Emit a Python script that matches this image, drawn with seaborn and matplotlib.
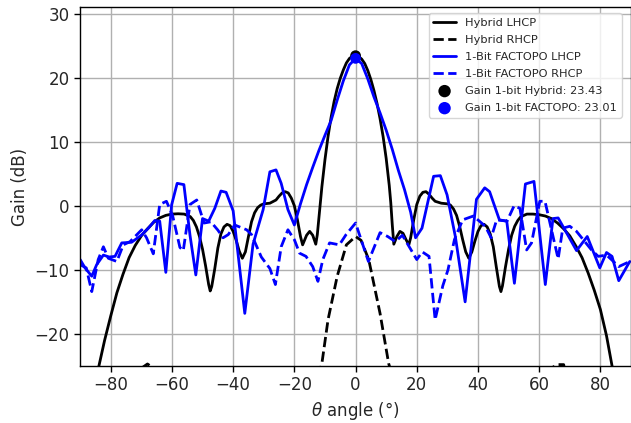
import numpy as np
import pandas as pd
import matplotlib
matplotlib.use("Agg")
import matplotlib.pyplot as plt
import seaborn as sns

# ---------------- data ----------------
hyb_lhcp_theta = [-86, -84, -82, -80, -78, -76, -74, -72, -70, -68, -66, -64, -62, -60, -58, -56, -54,
                  -53, -52, -51, -50, -49, -48, -47.5, -47, -46, -45, -44, -43, -42, -41, -40, -39,
                  -38, -37, -36, -35, -34, -33, -32, -31, -30, -28, -26, -25, -24, -23, -22, -21, -20,
                  -19, -18, -17.3, -16, -15, -14, -13, -12.5, -12, -11, -10, -9, -8, -7, -6, -5, -4,
                  -3, -2, -1, 0,
                  1, 2, 3, 4, 5, 6, 7, 8, 9, 10, 11, 11.5, 12, 12.5, 13.5, 14.5, 15.5, 16.5, 17.4,
                  18, 19, 20, 21, 22, 23, 24, 25, 26, 28, 30, 31, 32, 33, 34, 35, 36, 37, 38, 39,
                  40, 41, 42, 43, 44, 45, 46, 47, 47.5, 48, 49, 50, 51, 52, 53, 54, 56, 58, 60, 62,
                  64, 66, 68, 70, 72, 74, 76, 78, 80, 82, 84, 86]
hyb_lhcp_gain = [-30, -25.3, -21, -17.2, -13.6, -10.7, -8.1, -6.2, -4.7, -3.6, -2.6, -1.9, -1.5, -1.3,
                 -1.25, -1.3, -1.7, -2.3, -3.3, -4.8, -6.8, -9.4, -12.3, -13.3, -12.6, -9.8, -6.6,
                 -4.4, -3.3, -2.9, -3.1, -4.0, -5.4, -7.1, -8.2, -7.2, -4.8, -2.5, -1.1, -0.3, 0.1,
                 0.3, 0.4, 0.9, 1.5, 2.0, 2.2, 2.0, 1.2, 0.0, -2.2, -4.8, -6.1, -4.6, -4.0, -4.6,
                 -6.0, -4.5, -2.0, 3.0, 7.2, 10.8, 13.8, 16.3, 18.3, 19.9, 21.2, 22.3, 23.0, 23.35,
                 23.43,
                 23.3, 22.9, 22.2, 21.1, 19.7, 18.0, 16.0, 13.6, 10.8, 7.4, 3.2, 0.5, -3.0, -6.0,
                 -4.8, -4.0, -4.3, -5.3, -6.1, -5.0, -2.2, 0.2, 1.5, 2.1, 2.2, 1.8, 1.2, 0.7, 0.4,
                 0.3, 0.1, -0.5, -1.5, -3.2, -5.3, -7.2, -8.2, -7.2, -5.5, -4.0, -3.1, -2.9, -3.3,
                 -4.4, -6.4, -9.6, -12.6, -13.4, -12.5, -9.5, -6.8, -4.6, -3.2, -2.3, -1.7, -1.3,
                 -1.3, -1.4, -1.6, -2.0, -2.7, -3.6, -4.7, -6.3, -8.1, -10.5, -13.2, -16.2, -20.3,
                 -25.5, -30]

hyb_rhcp_theta = [-72, -69.5, -68, -66.5, -64, -14, -11, -9, -6, -3, 0, 1.8, 4.3, 8, 10.8, 14,
                  62, 64.5, 66, 68, 70]
hyb_rhcp_gain = [-30, -25.2, -24.7, -25.2, -30, -30, -24.6, -17.8, -11, -6.1, -4.8, -5.4, -8.4,
                 -16.8, -24.6, -30, -30, -25.2, -24.8, -24.8, -30]

fac_lhcp_theta = [-90, -88.4, -86.2, -84.6, -82.4, -80.5, -78.6, -76.4, -73.2, -70, -67.7, -65.6,
                  -64, -62, -60.1, -58.3, -56.1, -54.1, -52.2, -50, -48, -46, -44, -42.3, -40,
                  -36.2, -33.5, -30.2, -28, -26, -24.3, -22.1, -20, -18, -16, -14, -12, -10, -8,
                  -6, -4, -2, 0, 2, 4, 6, 8, 10, 12, 14, 16, 18, 19.6, 21.7, 25.5, 27.7, 29.9,
                  32.6, 35.8, 39.5, 42.2, 43.8, 47, 49.4, 51.9, 55.5, 58.3, 62, 64.5, 66.2, 72.2,
                  75.7, 79.8, 82, 83.8, 86, 89.6]
fac_lhcp_gain = [-8.4, -9.7, -11, -9.2, -7.7, -8.0, -7.9, -5.8, -5.7, -4.6, -3.5, -2.3, -2.4, -10.4,
                 0.15, 3.5, 3.3, -4.6, -10.8, -2.0, -2.4, -0.4, 2.3, 2.1, -0.8, -16.8, -6.0, -0.6,
                 5.3, 5.6, 3.5, -0.6, -3.0, 0.3, 3.3, 6.0, 8.6, 11.0, 13.3, 16.5, 19.5, 22.0, 23.0,
                 22.2, 19.8, 17.0, 14.5, 11.8, 8.8, 5.5, 2.5, -1.0, -5.0, -3.5, 4.6, 4.7, 1.7,
                 -4.8, -15.0, 1.0, 2.8, 2.2, -2.2, -2.4, -12.1, 3.4, 3.8, -12.3, -2.0, -1.9, -7.0,
                 -4.8, -9.7, -7.3, -7.9, -11.7, -8.7]

fac_rhcp_theta = [-90, -88, -86.2, -84.1, -82.4, -80.8, -78, -75.9, -73.7, -69.9, -68.3, -66.1,
                  -64, -61.8, -59.8, -57.4, -56.3, -54.1, -51.9, -49.5, -47.3, -45, -43.3, -41.6,
                  -39.5, -35.6, -34, -30.8, -28, -26.2, -24.3, -22.1, -20, -18.3, -16.2, -14,
                  -12.3, -10.7, -8.5, -5.3, -3.1, 0, 4.2, 8, 10.5, 13, 15.3, 20, 21.8, 24, 26,
                  28.5, 30.2, 32.3, 35, 38.5, 42.4, 44.3, 46.1, 49.5, 51.8, 53.7, 55.9, 57.5,
                  60.2, 61.9, 66.2, 67.7, 70, 72.2, 77.1, 79.3, 82, 83.6, 86, 89.6]
fac_rhcp_gain = [-9.2, -9.7, -13.4, -8.4, -6.4, -8.2, -8.7, -6.1, -5.6, -3.75, -5.0, -7.5, 0.2,
                 0.7, -1.5, -6.5, -7.0, 0.2, 0.9, -2.7, -2.5, -3.8, -5.0, -4.5, -3.0, -3.75, -4.5,
                 -8.0, -9.8, -12.3, -6.4, -3.75, -5.3, -7.4, -7.9, -9.5, -11.8, -8.4, -5.8, -6.1,
                 -4.5, -2.7, -8.7, -4.2, -4.8, -5.6, -4.6, -8.4, -7.2, -7.9, -17.8, -12.5, -10.0,
                 -5.3, -2.2, -1.6, -3.2, -5.0, -2.2, -2.4, 0.0, -0.4, -6.9, -5.8, 0.7, 0.7, -8.3,
                 -3.5, -3.2, -4.0, -6.9, -7.9, -7.7, -8.4, -9.5, -8.7]

peak_theta = [0, 0]
peak_gain = [23.43, 23.01]
peak_labels = ["Gain 1-bit Hybrid: 23.43", "Gain 1-bit FACTOPO: 23.01"]

# ---------------- plot ----------------
sns.set_style("ticks")
plt.rcParams['font.family'] = ['DejaVu Sans']

fig = plt.figure(figsize=(6.31, 4.23), dpi=100)
ax = fig.add_axes([0.127, 0.135, 0.873, 0.848])

lw = 2.0
sns.lineplot(x=hyb_lhcp_theta, y=hyb_lhcp_gain, ax=ax, color="black", lw=lw,
             label="Hybrid LHCP", estimator=None, sort=False)
sns.lineplot(x=hyb_rhcp_theta, y=hyb_rhcp_gain, ax=ax, color="black", lw=lw, ls="--",
             label="Hybrid RHCP", estimator=None, sort=False)
sns.lineplot(x=fac_lhcp_theta, y=fac_lhcp_gain, ax=ax, color="blue", lw=lw,
             label="1-Bit FACTOPO LHCP", estimator=None, sort=False)
sns.lineplot(x=fac_rhcp_theta, y=fac_rhcp_gain, ax=ax, color="blue", lw=lw, ls="--",
             label="1-Bit FACTOPO RHCP", estimator=None, sort=False)
sns.scatterplot(x=[peak_theta[0]], y=[peak_gain[0]], ax=ax, color="black", s=60,
                edgecolor="none", label=peak_labels[0], zorder=5)
sns.scatterplot(x=[peak_theta[1]], y=[peak_gain[1]], ax=ax, color="blue", s=60,
                edgecolor="none", label=peak_labels[1], zorder=6)

ax.set_xlim(-90, 90)
ax.set_ylim(-25, 31)
ax.set_xticks([-80, -60, -40, -20, 0, 20, 40, 60, 80])
ax.set_yticks([-20, -10, 0, 10, 20, 30])
ax.tick_params(labelsize=12, length=4, width=1, color="black")
ax.set_xlabel(r"$\theta$ angle (°)", fontsize=12)
ax.set_ylabel("Gain (dB)", fontsize=12)
ax.grid(True, color="#b0b0b0", lw=1)
for s in ax.spines.values():
    s.set_color("black")
    s.set_linewidth(1.0)

ax.legend(loc="upper right", fontsize=8.2, frameon=True, framealpha=0.8,
          bbox_to_anchor=(621.5 / 631, 1 - 13.3 / 423), bbox_transform=fig.transFigure,
          borderaxespad=0, handlelength=2.0, labelspacing=0.62, markerscale=1.15)

fig.savefig("out.png", dpi=100)
